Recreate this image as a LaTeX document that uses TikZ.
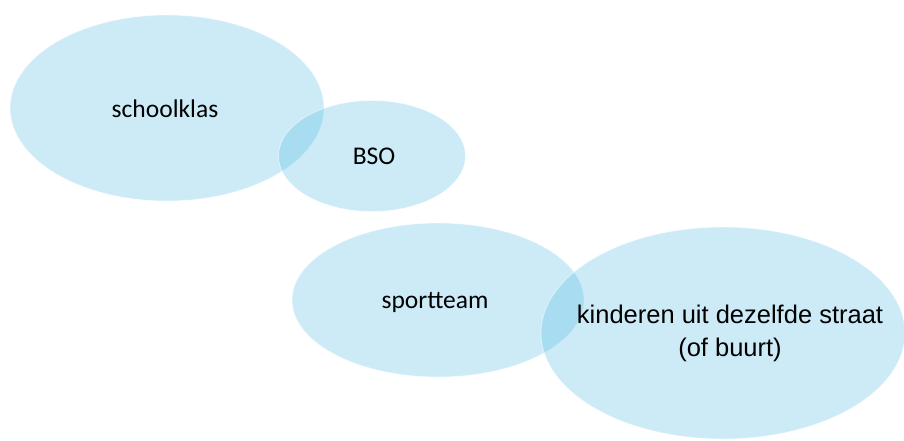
\documentclass[tikz,border=0pt]{standalone}
\usepackage{fontspec}
\setmainfont{Carlito}
\newfontfamily\arialfont{Liberation Sans}
\usetikzlibrary{shapes.geometric}
\definecolor{bubble}{RGB}{55,175,223}
\begin{document}
\begin{tikzpicture}[x=1pt,y=-1pt,
  bubblestyle/.style={ellipse,fill=bubble,fill opacity=0.25,draw=white,draw opacity=0.5,line width=0.8pt,inner sep=0pt},
  lbl/.style={font=\fontsize{25.5}{33}\selectfont,text=black,align=center,inner sep=0pt}]
\useasboundingbox (0,0) rectangle (904,440);
\node[bubblestyle,minimum width=314,minimum height=186] (school) at (167,108) {};
\node[bubblestyle,minimum width=187,minimum height=111] (bso) at (372,156) {};
\node[bubblestyle,minimum width=292,minimum height=154] (sport) at (438,300) {};
\node[bubblestyle,minimum width=364,minimum height=212] (straat) at (723,333) {};
\node[lbl] (tschool) at (165,109) {schoolklas};
\node[lbl] (tbso) at (374,156) {BSO};
\node[lbl] (tsport) at (435,302) {sportteam};
\node[lbl,font=\arialfont\fontsize{25.5}{33}\selectfont] (tstraat) at (730,333) {kinderen uit dezelfde straat\\(of buurt)};
\end{tikzpicture}
\end{document}
